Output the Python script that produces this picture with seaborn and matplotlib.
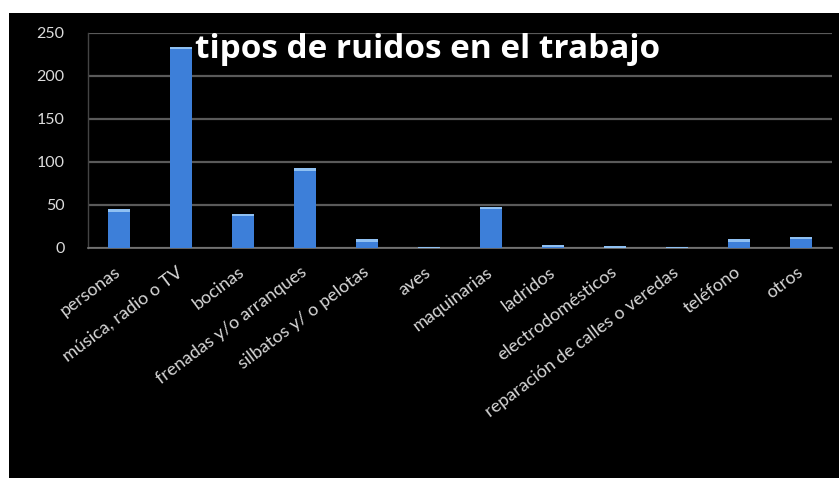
import matplotlib
matplotlib.use("Agg")
import matplotlib.pyplot as plt
import matplotlib.patches as mpatches
import seaborn as sns
import pandas as pd

# Noise sources reported at the workplace
categorias = [
    "personas", "música, radio o TV", "bocinas", "frenadas y/o arranques",
    "silbatos y/ o pelotas", "aves", "maquinarias", "ladridos",
    "electrodomésticos", "reparación de calles o veredas", "teléfono", "otros",
]
cantidades = [45, 234, 40, 93, 10, 1, 48, 4, 2, 1, 10, 13]
y_ticks = [0, 50, 100, 150, 200, 250]
titulo = "tipos de ruidos en el trabajo"

df = pd.DataFrame({"categoria": categorias, "cantidad": cantidades})

sns.set_theme(style="dark")
plt.rcParams["font.family"] = ["Lato", "DejaVu Sans"]

W, H = 839, 479
fig = plt.figure(figsize=(W / 100, H / 100), dpi=100, facecolor="white")

# black slide-like panel behind the chart
fig.patches.append(mpatches.Rectangle((9 / W, 1 - 478 / H), 1 - 9 / W, (478 - 13) / H,
                                      transform=fig.transFigure, facecolor="black",
                                      edgecolor="none", zorder=-10))

ax = fig.add_axes([88 / W, 1 - 248 / H, (832 - 88) / W, (248 - 33) / H])
ax.set_zorder(1)
ax.set_facecolor("black")

sns.barplot(data=df, x="categoria", y="cantidad", color="#3d7fd9", width=0.37,
            saturation=1, ax=ax, zorder=3, edgecolor="none", linewidth=0)

# lighter cap on each bar for a bevelled look
for p in list(ax.patches):
    h = p.get_height()
    if h <= 0:
        continue
    cap = min(3.0, h)
    ax.add_patch(mpatches.Rectangle((p.get_x(), h - cap), p.get_width(), cap,
                                    facecolor="#8fc0f2", edgecolor="none", zorder=4))

ax.set_ylim(0, 250)
ax.set_xlim(-0.5, len(categorias) - 0.5)
ax.set_yticks(y_ticks)
ax.set_yticklabels([str(v) for v in y_ticks], color="#dcdcdc", fontsize=11.5)
ax.yaxis.grid(True, color="#5a5a5a", linewidth=1.6, zorder=0)
ax.xaxis.grid(False)
ax.set_axisbelow(True)

ax.set_xticks(range(len(categorias)))
ax.set_xticklabels(categorias, rotation=37, ha="right", va="center",
                   rotation_mode="anchor", color="#d6d6d6", fontsize=13)
ax.tick_params(axis="x", length=0, pad=16)
ax.tick_params(axis="y", length=5, color="#5a5a5a", pad=12)

# minor ticks between categories along the baseline
ax.set_xticks([i + 0.5 for i in range(-1, len(categorias))], minor=True)
ax.tick_params(axis="x", which="minor", length=4, color="#777777", direction="out")

for side in ["top", "right"]:
    ax.spines[side].set_visible(False)
ax.spines["bottom"].set_color("#777777")
ax.spines["left"].set_color("#444444")
ax.spines["bottom"].set_linewidth(1.2)
ax.spines["left"].set_linewidth(1.0)
ax.set_xlabel("")
ax.set_ylabel("")

fig.text(195 / W, 1 - 50 / H, titulo, color="white", fontsize=24, fontweight="bold",
         family=["Open Sans", "DejaVu Sans"], ha="left", va="center", zorder=5)

fig.savefig("out.png", dpi=100, facecolor="white")
